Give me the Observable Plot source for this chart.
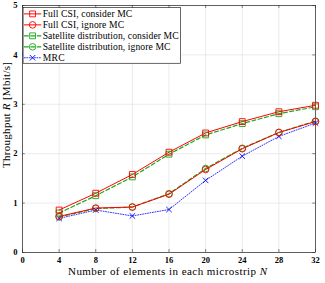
<!DOCTYPE html>
<html><head><meta charset="utf-8">
<script src="https://cdn.jsdelivr.net/npm/d3@7"></script>
<script src="https://cdn.jsdelivr.net/npm/@observablehq/plot@0.6"></script>
<style>body{margin:0;background:#fff;font-family:"Liberation Serif",serif}</style>
</head><body><div id="chart"></div>
<script>
const N = [4, 8, 12, 16, 20, 24, 28, 32];
const fullConsider = [0.86, 1.20, 1.58, 2.03, 2.42, 2.65, 2.85, 2.98];
const fullIgnore = [0.73, 0.90, 0.92, 1.18, 1.68, 2.10, 2.43, 2.65];
const satConsider = [0.80, 1.15, 1.53, 1.99, 2.38, 2.61, 2.81, 2.95];
const satIgnore = [0.72, 0.89, 0.92, 1.19, 1.70, 2.11, 2.43, 2.66];
const mrc = [0.69, 0.86, 0.74, 0.87, 1.46, 1.95, 2.35, 2.62];
const seriesNames = ["Full CSI, consider MC", "Full CSI, ignore MC", "Satellite distribution, consider MC", "Satellite distribution, ignore MC", "MRC"];
const xTicks = [0, 4, 8, 12, 16, 20, 24, 28, 32];
const yTicks = [0, 1, 2, 3, 4, 5];

const styles = [
  {color: "#ff0000", symbol: "square", dash: null, width: 1},
  {color: "#ff0000", symbol: "circle", dash: null, width: 1},
  {color: "#1aa81a", symbol: "square", dash: "4,2.5", width: 1.2},
  {color: "#1aa81a", symbol: "circle", dash: "4,2.5", width: 1.2},
  {color: "#0000ff", symbol: "times", dash: "1,1.5", width: 0.8}
];
const allVals = [fullConsider, fullIgnore, satConsider, satIgnore, mrc];
const series = allVals.map((vals, k) => vals.map((v, i) => ({n: N[i], r: v, k})));

const marks = [
  Plot.ruleX(xTicks, {stroke: "#e3e3e3", strokeWidth: 0.7}),
  Plot.ruleY(yTicks, {stroke: "#e3e3e3", strokeWidth: 0.7}),
  Plot.ruleX(xTicks, {y1: 0, y2: 0.06, stroke: "#333", strokeWidth: 0.6}),
  Plot.ruleX(xTicks, {y1: 5, y2: 4.94, stroke: "#333", strokeWidth: 0.6}),
  Plot.ruleY(yTicks, {x1: 0, x2: 0.3, stroke: "#333", strokeWidth: 0.6}),
  Plot.ruleY(yTicks, {x1: 32, x2: 31.7, stroke: "#333", strokeWidth: 0.6}),
  Plot.frame({stroke: "#262626", strokeWidth: 0.7})
];
[4, 3, 2, 1, 0].forEach(k => {
  const s = styles[k];
  marks.push(Plot.line(series[k], {x: "n", y: "r", stroke: s.color, strokeWidth: s.width, strokeDasharray: s.dash}));
});
[4, 3, 2, 1, 0].forEach(k => {
  const s = styles[k];
  marks.push(Plot.dot(series[k], {x: "n", y: "r", stroke: s.color, symbol: s.symbol, r: s.symbol === "times" ? 2.6 : 3.3, strokeWidth: 0.9, fill: "none"}));
});
const legendY = seriesNames.map((name, i) => ({name, i, y: 4.83 - i * 0.222}));
marks.push(Plot.rect([0], {x1: 0.12, x2: 17.3, y1: 3.82, y2: 4.95, fill: "white", stroke: "#262626", strokeWidth: 0.7}));
legendY.forEach(d => {
  const s = styles[d.i];
  marks.push(Plot.line([[0.2, d.y], [2.0, d.y]], {stroke: s.color, strokeWidth: s.width, strokeDasharray: s.dash}));
  marks.push(Plot.dot([[1.1, d.y]], {stroke: s.color, symbol: s.symbol, r: s.symbol === "times" ? 2.6 : 3.3, strokeWidth: 0.9, fill: "none"}));
});
marks.push(Plot.text(legendY, {x: 2.2, y: "y", text: "name", textAnchor: "start", fontSize: 9.6, fill: "#000", className: "legtext"}));

const chart = Plot.plot({
  width: 325, height: 283,
  marginLeft: 22, marginRight: 10, marginTop: 5, marginBottom: 31,
  style: {fontFamily: "Liberation Serif, serif", background: "white"},
  x: {domain: [0, 32], label: null},
  y: {domain: [0, 5], label: null},
  marks: [
    ...marks,
    Plot.axisX({ticks: xTicks, tickSize: 0, tickPadding: 4, fontSize: 8.5, fontWeight: "bold", label: null, tickFormat: d => d}),
    Plot.axisY({ticks: yTicks, tickSize: 0, tickPadding: 5, fontSize: 8.5, fontWeight: "bold", label: null, tickFormat: d => d})
  ]
});
document.getElementById("chart").appendChild(chart);
const svg = d3.select(chart);
const legTexts = svg.selectAll(".legtext text").nodes();
if (legTexts.length) {
  const ref = legTexts[2].getComputedTextLength();
  const k = 136 / ref;
  legTexts.forEach(t => {
    t.setAttribute("textLength", (t.getComputedTextLength() * k).toFixed(1));
    t.setAttribute("lengthAdjust", "spacing");
  });
}
const xl = svg.append("text").attr("x", 167.5).attr("y", 275).attr("text-anchor", "middle")
  .attr("font-size", 11).attr("font-family", "Liberation Serif, serif").attr("fill", "#000")
  .attr("textLength", 199).attr("lengthAdjust", "spacing");
xl.append("tspan").text("Number of elements in each microstrip ");
xl.append("tspan").attr("font-style", "italic").text("N");
const yl = svg.append("text").attr("transform", "translate(10,115) rotate(-90)").attr("text-anchor", "middle")
  .attr("font-size", 11).attr("font-family", "Liberation Serif, serif").attr("fill", "#000")
  .attr("textLength", 106).attr("lengthAdjust", "spacing");
yl.append("tspan").text("Throughput ");
yl.append("tspan").attr("font-style", "italic").text("R");
yl.append("tspan").text(" [Mbit/s]");
</script></body></html>
